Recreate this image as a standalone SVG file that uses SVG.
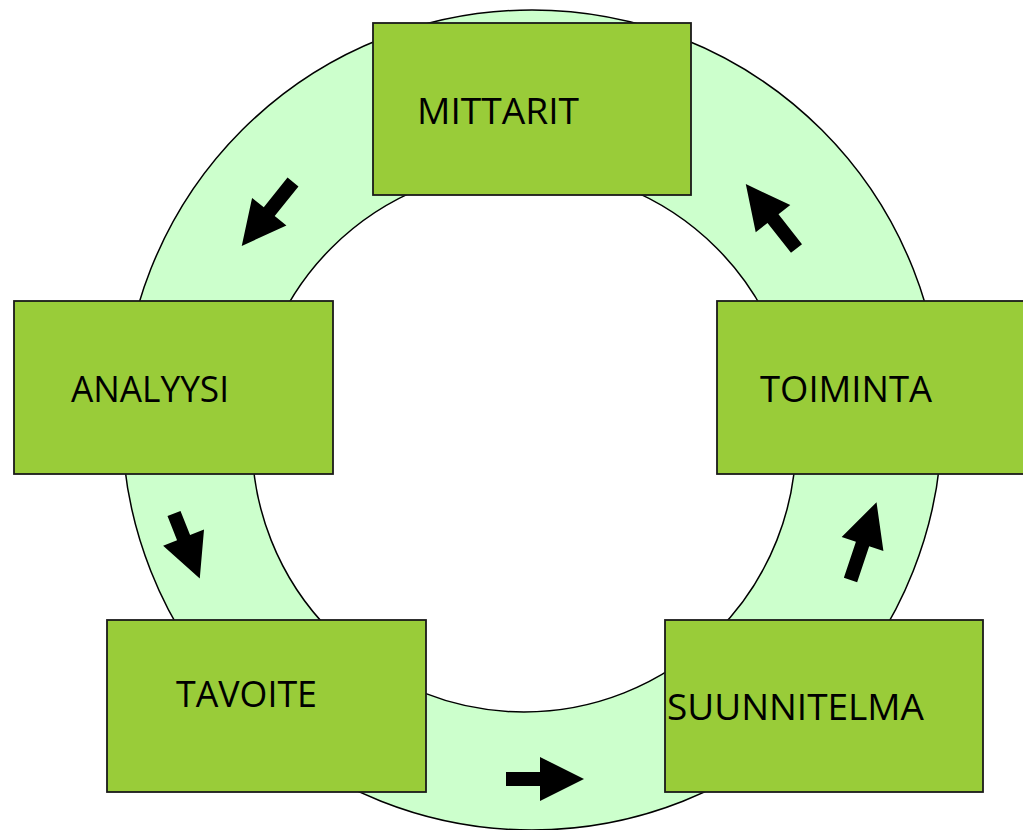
<svg xmlns="http://www.w3.org/2000/svg" width="1023" height="830" viewBox="0 0 1023 830">
<defs>
<style>
.box{fill:#99CC39;stroke:#1a1a1a;stroke-width:1.8}
.lbl{font-family:"Open Sans","Noto Sans","Liberation Sans",sans-serif;font-size:36px;fill:#000}
.arr{fill:#000}
</style>
<polygon id="a82" points="0,-7 38,-7 38,-22 82,0 38,22 38,7 0,7"/>
</defs>
<rect width="1023" height="830" fill="#fff"/>
<g id="ring">
<path d="M122,420 A410,410 0 1 0 942,420 A410,410 0 1 0 122,420 Z M252,440 A272,272 0 1 1 796,440 A272,272 0 1 1 252,440 Z" fill="#CCFFCC" fill-rule="evenodd" stroke="#000" stroke-width="1.5"/>
</g>
<g id="connectors" class="arr">
<use href="#a82" transform="translate(293,182) rotate(128.7)"/>
<use href="#a82" transform="translate(796.5,248.5) rotate(-128.2)"/>
<polygon points="0,-7 26,-7 26,-22 70,0 26,22 26,7 0,7" transform="translate(174,513.5) rotate(68.4)"/>
<use href="#a82" transform="translate(850.5,580) rotate(-71.5)"/>
<polygon points="0,-7 34,-7 34,-22 78,0 34,22 34,7 0,7" transform="translate(506,779)"/>
</g>
<g id="mittarit">
<rect class="box" x="373" y="23" width="318" height="172"/>
<text class="lbl" x="417" y="124" textLength="162" lengthAdjust="spacingAndGlyphs">MITTARIT</text>
</g>
<g id="analyysi">
<rect class="box" x="14" y="301" width="319" height="173"/>
<text class="lbl" x="71" y="402" textLength="158" lengthAdjust="spacingAndGlyphs">ANALYYSI</text>
</g>
<g id="toiminta">
<rect class="box" x="717" y="301" width="318" height="173"/>
<text class="lbl" x="760" y="402" textLength="172" lengthAdjust="spacingAndGlyphs">TOIMINTA</text>
</g>
<g id="tavoite">
<rect class="box" x="107" y="620" width="319" height="172"/>
<text class="lbl" x="176" y="707" textLength="141" lengthAdjust="spacingAndGlyphs">TAVOITE</text>
</g>
<g id="suunnitelma">
<rect class="box" x="665" y="620" width="318" height="172"/>
<text class="lbl" x="667" y="720" textLength="257" lengthAdjust="spacingAndGlyphs">SUUNNITELMA</text>
</g>
</svg>
